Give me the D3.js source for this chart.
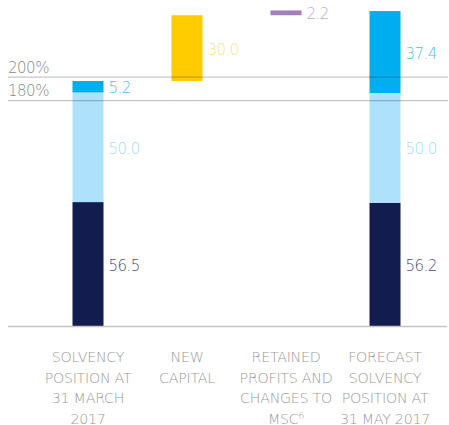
<!DOCTYPE html>
<html>
<head>
<meta charset="utf-8">
<script src="https://cdn.jsdelivr.net/npm/d3@7"></script>
<style>
  body { margin: 0; background: #fff; }
  svg { display: block; font-family: "DejaVu Sans", sans-serif; font-weight: 200; }
</style>
</head>
<body>
<div id="chart"></div>
<script>
// waterfall: solvency walk
const categories = ["start", "capital", "retained", "forecast"];
const categoryLines = [
    ["SOLVENCY", "POSITION AT", "31 MARCH", "2017"],
    ["NEW", "CAPITAL"],
    ["RETAINED", "PROFITS AND", "CHANGES TO", "MSC"],
    ["FORECAST", "SOLVENCY", "POSITION AT", "31 MAY 2017"]
];
const darkValues = [56.5, 0, 0, 56.2];
const lightValues = [50.0, 0, 0, 50.0];
const blueValues = [5.2, 0, 0, 37.4];
const capitalValues = [0, 30.0, 0, 0];
const retainedValues = [0, 0, 2.2, 0];

const refLineLabels = ["200%", "180%"];
const refLineValues = [113.5, 102.8];

const width = 449, height = 425;
const barWidth = 31;

const seriesKeys = ["dark", "light", "blue", "capital", "retained"];
const seriesValues = [darkValues, lightValues, blueValues, capitalValues, retainedValues];
const fillColor = {
    dark: "#131c4f", light: "#aee1fb", blue: "#00aeef",
    capital: "#ffcc00", retained: "#a47fbb"
};
const labelColor = {
    dark: "#4b5072", light: "#a6dcf7", blue: "#4fbdea",
    capital: "#fddf7c", retained: "#c2a6d2"
};

const x = d3.scalePoint().domain(categories).range([88, 385]);
const y = d3.scaleLinear().domain([0, 145]).range([326, 8]);

// build segments; floating bars start at the running total
const segments = [];
let running = 0;
categories.forEach((c, i) => {
    const isFloating = i > 0 && i < categories.length - 1;
    let base = isFloating ? running : 0;
    seriesKeys.forEach((k, j) => {
        const v = seriesValues[j][i];
        if (!v) return;
        segments.push({ cat: c, key: k, y0: base, y1: base + v, value: v });
        base += v;
    });
    running = isFloating ? base : (i === 0 ? base : running);
});

const svg = d3.select("#chart").append("svg")
    .attr("width", width)
    .attr("height", height);

svg.append("g").selectAll("rect")
    .data(segments)
    .join("rect")
    .attr("x", d => x(d.cat) - barWidth / 2)
    .attr("width", barWidth)
    .attr("y", d => y(d.y1))
    .attr("height", d => y(d.y0) - y(d.y1))
    .attr("fill", d => fillColor[d.key]);

svg.append("g").selectAll("text")
    .data(segments)
    .join("text")
    .attr("x", d => x(d.cat) + barWidth / 2 + 5)
    .attr("y", d => (y(d.y0) + y(d.y1)) / 2 + 1.5)
    .attr("dominant-baseline", "central")
    .attr("font-size", 15)
    .attr("letter-spacing", -0.5)
    .attr("fill", d => labelColor[d.key])
    .text(d => d.value.toFixed(1));

// reference lines, drawn over the bars
const refs = svg.append("g");
refLineValues.forEach((v, i) => {
    refs.append("line")
        .attr("x1", 8).attr("x2", 448)
        .attr("y1", y(v)).attr("y2", y(v))
        .attr("stroke", "#000").attr("stroke-opacity", 0.22)
        .attr("stroke-width", 1.3);
    refs.append("text")
        .attr("x", 8)
        .attr("y", y(v) - 4.5)
        .attr("font-size", 15)
        .attr("letter-spacing", -0.5)
        .attr("fill", "#8a8a8a")
        .text(refLineLabels[i]);
});

// baseline
svg.append("line")
    .attr("x1", 8).attr("x2", 447)
    .attr("y1", y(0) + 0.5).attr("y2", y(0) + 0.5)
    .attr("stroke", "#c4c4c4")
    .attr("stroke-width", 1.6);

// category labels
const catG = svg.append("g")
    .attr("font-size", 14.3)
    .attr("letter-spacing", -0.3)
    .attr("fill", "#9a9a9a")
    .attr("text-anchor", "middle");
categories.forEach((c, i) => {
    const t = catG.append("text").attr("y", 362);
    categoryLines[i].forEach((line, j) => {
        t.append("tspan")
            .attr("x", x(c))
            .attr("dy", j === 0 ? 0 : 20.5)
            .text(line);
    });
    if (c === "retained") {
        t.append("tspan").attr("font-size", 9).attr("dy", -5).text("6");
    }
});
</script>
</body>
</html>
